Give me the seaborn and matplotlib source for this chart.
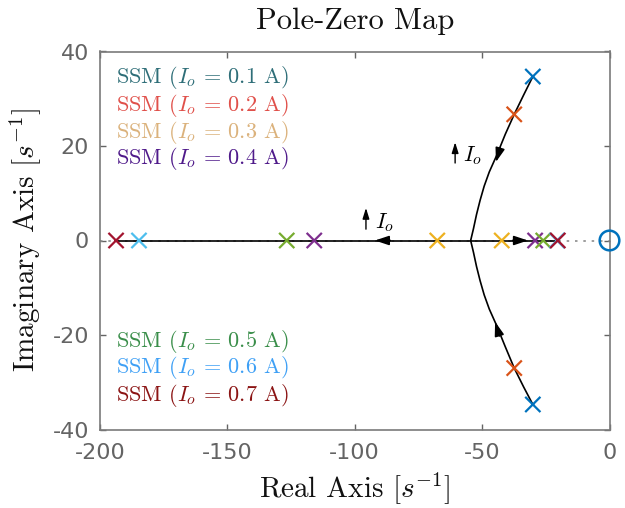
import numpy as np
import pandas as pd
import matplotlib
matplotlib.use("Agg")
import matplotlib.pyplot as plt
import seaborn as sns

# ---------------- data ----------------
currents = ["0.1", "0.2", "0.3", "0.4", "0.5", "0.6", "0.7"]
marker_colors = ["#0072BD", "#D95319", "#EDB120", "#7E2F8E", "#77AC30", "#4DBEEE", "#A2142F"]
label_colors = ["#2E6E78", "#E0504A", "#DBB27C", "#4F1A8A", "#3A8E4A", "#3FA0F5", "#8B1414"]

pole_re = {
    "0.1": [-30.1, -30.1],
    "0.2": [-37.4, -37.4],
    "0.3": [-67.6, -42.3],
    "0.4": [-115.9, -29.2],
    "0.5": [-126.7, -26.0],
    "0.6": [-184.7, -20.6],
    "0.7": [-193.7, -20.3],
}
pole_im = {
    "0.1": [34.7, -34.7],
    "0.2": [26.7, -27.0],
    "0.3": [0.0, 0.0],
    "0.4": [0.0, 0.0],
    "0.5": [0.0, 0.0],
    "0.6": [0.0, 0.0],
    "0.7": [0.0, 0.0],
}
zero_re = [0.0]
zero_im = [0.0]

# root-locus branches
upper_re = [-54.5, -53.4, -52.2, -50.8, -49.2, -47.2, -44.3, -40.9, -37.4, -33.7, -30.1]
upper_im = [0.0, 2.5, 5.5, 8.5, 11.5, 14.5, 18.0, 22.5, 26.7, 30.8, 34.7]
lower_re = [-54.5, -53.4, -52.2, -50.8, -49.2, -47.2, -44.3, -40.9, -37.4, -33.7, -30.1]
lower_im = [0.0, -2.5, -5.5, -8.5, -11.5, -14.5, -18.0, -22.5, -27.0, -31.0, -34.7]
real_re = [-193.7, -20.3]
real_im = [0.0, 0.0]

xticks = [-200, -150, -100, -50, 0]
yticks = [-40, -20, 0, 20, 40]

# ---------------- style ----------------
sns.set_theme(style="white")
plt.rcParams["mathtext.fontset"] = "cm"
plt.rcParams["axes.unicode_minus"] = False
plt.rcParams["font.family"] = ["DejaVu Sans"]

fig = plt.figure(figsize=(6.25, 5.08), dpi=100)
ax = fig.add_axes([100 / 625, 1 - 429.5 / 508, 509.5 / 625, 378 / 508])

# dotted zero line
ax.axhline(0, color="#8c8c8c", ls=(0, (1.5, 3.5)), lw=1.2, zorder=1)

# locus lines
for xs, ys in [(upper_re, upper_im), (lower_re, lower_im), (real_re, real_im)]:
    sns.lineplot(x=xs, y=ys, sort=False, estimator=None, color="black", lw=1.2, ax=ax, zorder=2)

# locus arrowheads
arrow_kw = dict(arrowstyle="-|>,head_length=0.42,head_width=0.14", color="black", lw=1.2,
                shrinkA=0, shrinkB=0, mutation_scale=20)
ax.annotate("", xy=(-44.6, 16.6), xytext=(-42.9, 19.6), arrowprops=arrow_kw)
ax.annotate("", xy=(-44.9, -17.2), xytext=(-43.2, -20.2), arrowprops=arrow_kw)
ax.annotate("", xy=(-92.1, 0), xytext=(-86.0, 0), arrowprops=arrow_kw)
ax.annotate("", xy=(-32.0, 0), xytext=(-38.1, 0), arrowprops=arrow_kw)

# I_o indicators
io_kw = dict(arrowstyle="-|>,head_length=0.32,head_width=0.1", color="black", lw=1.0,
             shrinkA=0, shrinkB=0, mutation_scale=20)
ax.annotate("", xy=(-60.6, 20.8), xytext=(-60.6, 16.4), arrowprops=io_kw)
ax.text(-57.6, 16.7, r"$I_o$", fontsize=16, ha="left", va="baseline", color="black")
ax.annotate("", xy=(-95.6, 6.9), xytext=(-95.6, 2.4), arrowprops=io_kw)
ax.text(-92.2, 2.7, r"$I_o$", fontsize=16, ha="left", va="baseline", color="black")

# poles
rows = []
for c in currents:
    for r, i in zip(pole_re[c], pole_im[c]):
        rows.append({"re": r, "im": i, "I": c})
df = pd.DataFrame(rows)
sns.scatterplot(data=df, x="re", y="im", hue="I", hue_order=currents,
                palette=marker_colors, marker="x", s=120, linewidth=1.6,
                legend=False, ax=ax, zorder=4)

# zero
sns.scatterplot(x=zero_re, y=zero_im, marker="o", s=200, facecolors="none",
                edgecolor=marker_colors[0], linewidth=1.8, ax=ax, zorder=5, clip_on=False)

# labels (legend-like text)
tops = [0.930, 0.858, 0.787, 0.716, 0.234, 0.163, 0.091]
for c, col, yy in zip(currents, label_colors, tops):
    ax.text(0.031, yy, "SSM ($I_o$ = " + "$" + c + "$" + " A)", transform=ax.transAxes,
            fontsize=16, family="cmr10", color=col, ha="left", va="center")

ax.set_xlim(-200, 0)
ax.set_ylim(-40, 40)
ax.set_xticks(xticks)
ax.set_yticks(yticks)
ax.set_xticklabels([str(t) for t in xticks])
ax.set_yticklabels([str(t) for t in yticks])
ax.tick_params(direction="in", length=4.5, width=1, colors="#646464", labelsize=16,
               top=True, right=True, bottom=True, left=True)
ax.tick_params(axis="x", pad=10)
ax.tick_params(axis="y", pad=8)
for s in ax.spines.values():
    s.set_color("#7a7a7a")
    s.set_linewidth(1.2)
    s.set_visible(True)

ax.set_title("Pole-Zero Map", family="cmr10", fontsize=22, color="#111111", pad=16)
ax.set_xlabel(r"Real Axis $[s^{-1}]$", family="cmr10", fontsize=21, color="#111111", labelpad=5)
ax.set_ylabel(r"Imaginary Axis $[s^{-1}]$", family="cmr10", fontsize=21, color="#111111", labelpad=7)

fig.savefig("out.png", dpi=100)
